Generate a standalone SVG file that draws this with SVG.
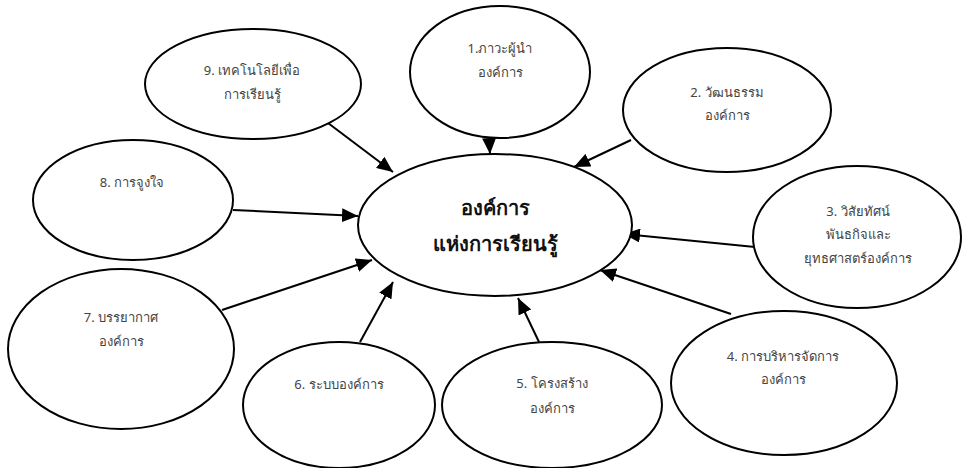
<svg xmlns="http://www.w3.org/2000/svg" width="962" height="468" viewBox="0 0 962 468">
<defs>
<marker id="ah" markerUnits="userSpaceOnUse" markerWidth="16" markerHeight="14" refX="16" refY="7" orient="auto">
<path d="M0,0 L16,7 L0,14 Z" fill="#000"/>
</marker>
<style>
ellipse{fill:#fff;stroke:#000;stroke-width:2}
.t{font-family:"Noto Sans","DejaVu Sans",sans-serif;font-size:13px;fill:#444;text-anchor:middle}
.c{font-family:"Noto Sans","DejaVu Sans",sans-serif;font-size:20px;font-weight:bold;fill:#111;text-anchor:middle}
.e{stroke:#000;stroke-width:2;fill:none;marker-end:url(#ah)}
</style>
</defs>
<rect width="962" height="468" fill="#fff"/>
<g id="connectors">
<line class="e" x1="489" y1="136" x2="490" y2="154"/>
<line class="e" x1="631" y1="140" x2="574" y2="167"/>
<line class="e" x1="755" y1="247" x2="624" y2="234"/>
<line class="e" x1="731" y1="314" x2="600" y2="270"/>
<line class="e" x1="539" y1="342" x2="518" y2="298"/>
<line class="e" x1="360" y1="342" x2="393" y2="282"/>
<line class="e" x1="222" y1="310" x2="372" y2="260"/>
<line class="e" x1="233" y1="210" x2="358" y2="216"/>
<line class="e" x1="328" y1="123" x2="393" y2="172"/>
</g>
<g id="center">
<ellipse cx="495" cy="225" rx="137" ry="71"/>
<text class="c" x="495" y="215">องค์การ</text>
<text class="c" x="495" y="251">แห่งการเรียนรู้</text>
</g>
<g id="n1">
<ellipse cx="500" cy="72" rx="90" ry="66"/>
<text class="t" x="500" y="53">1.ภาวะผู้นำ</text>
<text class="t" x="500" y="77">องค์การ</text>
</g>
<g id="n2">
<ellipse cx="727" cy="110" rx="104" ry="62"/>
<text class="t" x="727" y="97">2. วัฒนธรรม</text>
<text class="t" x="727" y="120">องค์การ</text>
</g>
<g id="n3">
<ellipse cx="857" cy="237" rx="104" ry="71"/>
<text class="t" x="858" y="216">3. วิสัยทัศน์</text>
<text class="t" x="858" y="239">พันธกิจและ</text>
<text class="t" x="858" y="263">ยุทธศาสตร์องค์การ</text>
</g>
<g id="n4">
<ellipse cx="784" cy="383" rx="113" ry="72"/>
<text class="t" x="783" y="361">4. การบริหารจัดการ</text>
<text class="t" x="783" y="384">องค์การ</text>
</g>
<g id="n5">
<ellipse cx="552" cy="405" rx="110" ry="63"/>
<text class="t" x="552" y="388">5. โครงสร้าง</text>
<text class="t" x="552" y="413">องค์การ</text>
</g>
<g id="n6">
<ellipse cx="339" cy="405" rx="96" ry="63"/>
<text class="t" x="339" y="389">6. ระบบองค์การ</text>
</g>
<g id="n7">
<ellipse cx="121" cy="349" rx="113" ry="80"/>
<text class="t" x="121" y="322">7. บรรยากาศ</text>
<text class="t" x="121" y="346">องค์การ</text>
</g>
<g id="n8">
<ellipse cx="133" cy="200" rx="100" ry="60"/>
<text class="t" x="132" y="187">8. การจูงใจ</text>
</g>
<g id="n9">
<ellipse cx="253" cy="84" rx="108" ry="55"/>
<text class="t" x="252" y="75">9. เทคโนโลยีเพื่อ</text>
<text class="t" x="252" y="99">การเรียนรู้</text>
</g>
</svg>
